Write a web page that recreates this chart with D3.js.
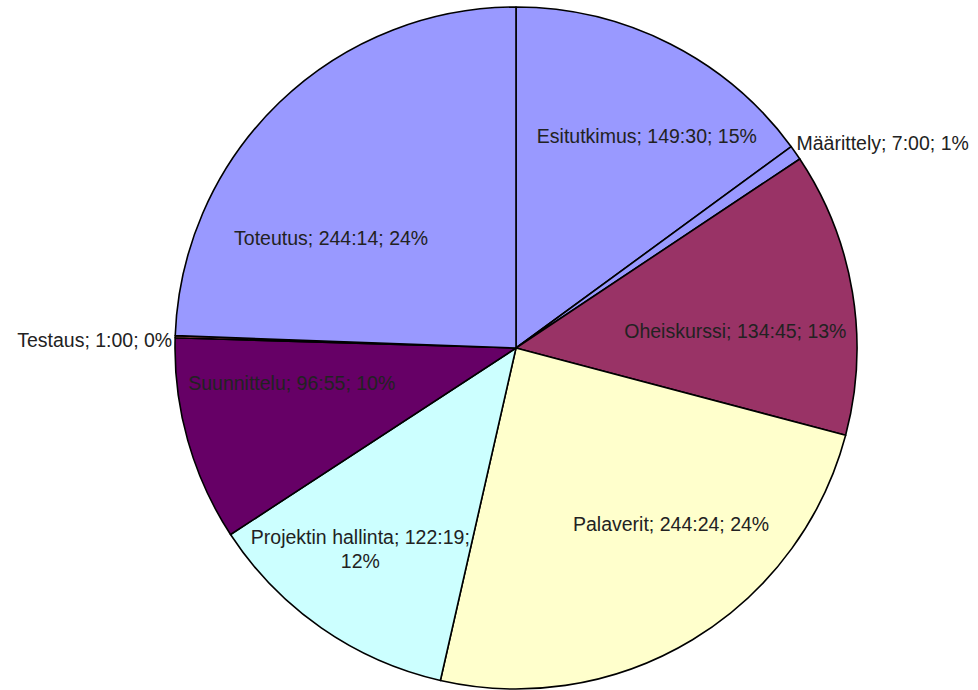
<!DOCTYPE html>
<html><head><meta charset="utf-8">
<script src="https://cdn.jsdelivr.net/npm/d3@7/dist/d3.min.js"></script>
<style>body{margin:0;background:#fff}svg{display:block}text{font-family:"Liberation Sans",Arial,sans-serif}</style>
</head><body>
<svg id="c" width="978" height="690"></svg>
<script>
const categories = ["Esitutkimus","Määrittely","Oheiskurssi","Palaverit","Projektin hallinta","Suunnittelu","Testaus","Toteutus"];
const timeLabels = ["149:30","7:00","134:45","244:24","122:19","96:55","1:00","244:14"];
const percentLabels = ["15%","1%","13%","24%","12%","10%","0%","24%"];
const colors = ["#9999ff","#9999ff","#993366","#ffffcc","#ccffff","#660066","#ff8080","#9999ff"];
// values in minutes derived from time labels
const values = timeLabels.map(t => { const [h,m] = t.split(":").map(Number); return h*60+m; });

// label layout (polar: angle deg clockwise from top, radius px)
const labelLayout = [
  {a:31.7, r:249}, {outside:"right"}, {a:85.6, r:220}, {a:138.7, r:235},
  {a:217.8, r:254, lines:2}, {a:261.1, r:227}, {outside:"left"}, {a:300.7, r:215}
];

const cx = 516, cy = 348, R = 341;
const svg = d3.select("#c");
const g = svg.append("g").attr("transform", `translate(${cx},${cy})`);
const pie = d3.pie().sort(null).value(d => d.v);
const data = categories.map((c,i) => ({c, v: values[i], t: timeLabels[i], p: percentLabels[i], col: colors[i], L: labelLayout[i]}));
const arcs = pie(data);
const arc = d3.arc().innerRadius(0).outerRadius(R);

g.selectAll("path").data(arcs).join("path")
  .attr("d", arc).attr("fill", d => d.data.col)
  .attr("stroke", "#000").attr("stroke-width", 1.6).attr("stroke-linejoin","round");

const fs = 19.5;
arcs.forEach(d => {
  const L = d.data.L;
  const full = `${d.data.c}; ${d.data.t}; ${d.data.p}`;
  if (L.outside) {
    const mid = (d.startAngle + d.endAngle)/2;
    const px = Math.sin(mid)*(R+6), py = -Math.cos(mid)*(R+6);
    if (L.outside === "right") {
      g.append("text").attr("x", px - 4).attr("y", py - 6).attr("dy","0.35em")
        .attr("text-anchor","start").attr("font-size", fs).attr("fill","#222").text(full);
    } else {
      g.append("text").attr("x", px + 3).attr("y", py + 4).attr("dy","0.35em")
        .attr("text-anchor","end").attr("font-size", fs).attr("fill","#222").text(full);
    }
    return;
  }
  const a = L.a*Math.PI/180;
  const x = Math.sin(a)*L.r, y = -Math.cos(a)*L.r;
  const t = g.append("text").attr("text-anchor","middle").attr("font-size", fs).attr("fill","#222");
  if (L.lines === 2) {
    t.append("tspan").attr("x", x).attr("y", y - 12).attr("dy","0.35em").text(`${d.data.c}; ${d.data.t};`);
    t.append("tspan").attr("x", x).attr("y", y + 12).attr("dy","0.35em").text(d.data.p);
  } else {
    t.attr("x", x).attr("y", y).attr("dy","0.35em").text(full);
  }
});
</script>
</body></html>
